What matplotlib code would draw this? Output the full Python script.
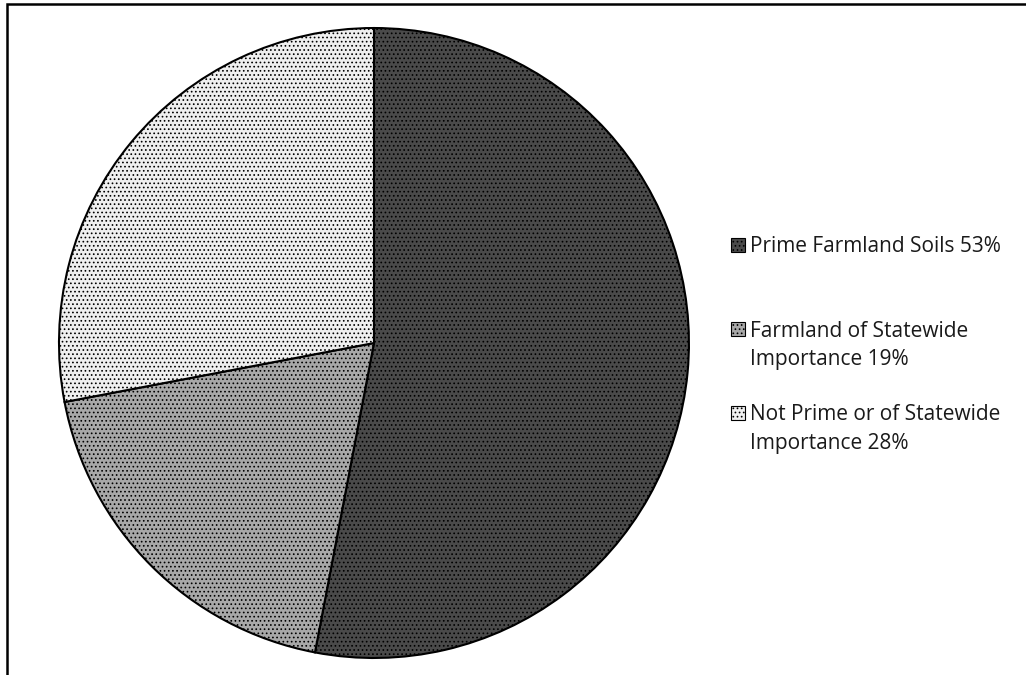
import matplotlib
matplotlib.use("Agg")
import matplotlib.pyplot as plt
from matplotlib.patches import Rectangle

categories = ["Prime Farmland Soils 53%",
              "Farmland of Statewide\nImportance 19%",
              "Not Prime or of Statewide\nImportance 28%"]
values = [53, 19, 28]
colors = ["#4a4a4a", "#a8a8a8", "#efefef"]
hatches = ["....", "....", "...."]

plt.rcParams['hatch.linewidth'] = 0.7
plt.rcParams['font.family'] = ['Open Sans', 'DejaVu Sans']

W, H = 1026, 675
fig = plt.figure(figsize=(W / 100, H / 100), dpi=100)
fig.patch.set_facecolor("white")

# outer frame (only left/top visible)
fig.patches.append(Rectangle((7 / W, -0.05), 1.2, 1 - 4 / H + 0.05,
                             transform=fig.transFigure, fill=False,
                             edgecolor="black", linewidth=1.8))

ax = fig.add_axes([0.0575, 0.0252, 0.614, 0.9333])
wedges, _ = ax.pie(values, colors=colors, startangle=90, counterclock=False,
                   wedgeprops=dict(edgecolor="black", linewidth=1.5))
for w, h in zip(wedges, hatches):
    w.set_hatch(h)
ax.set_xlim(-1.0, 1.0)
ax.set_ylim(-1.0, 1.0)
ax.set_aspect("equal")
ax.axis("off")

# legend (Excel-style: marker aligned with the first line of each entry)
first_line_y = [245, 329, 413]
line_pitch = 28.5
for label, c, h, y0 in zip(categories, colors, hatches, first_line_y):
    fig.patches.append(Rectangle((731 / W, 1 - (y0 + 7) / H), 14 / W, 14 / H,
                                 transform=fig.transFigure, facecolor=c,
                                 edgecolor="black", hatch=h, linewidth=0.8))
    for k, line in enumerate(label.split("\n")):
        yc = y0 + k * line_pitch
        fig.text(750 / W, 1 - (yc + 7.5) / H, line, fontsize=15,
                 ha="left", va="baseline", color="#1a1a1a")

fig.savefig("out.png", dpi=100)
